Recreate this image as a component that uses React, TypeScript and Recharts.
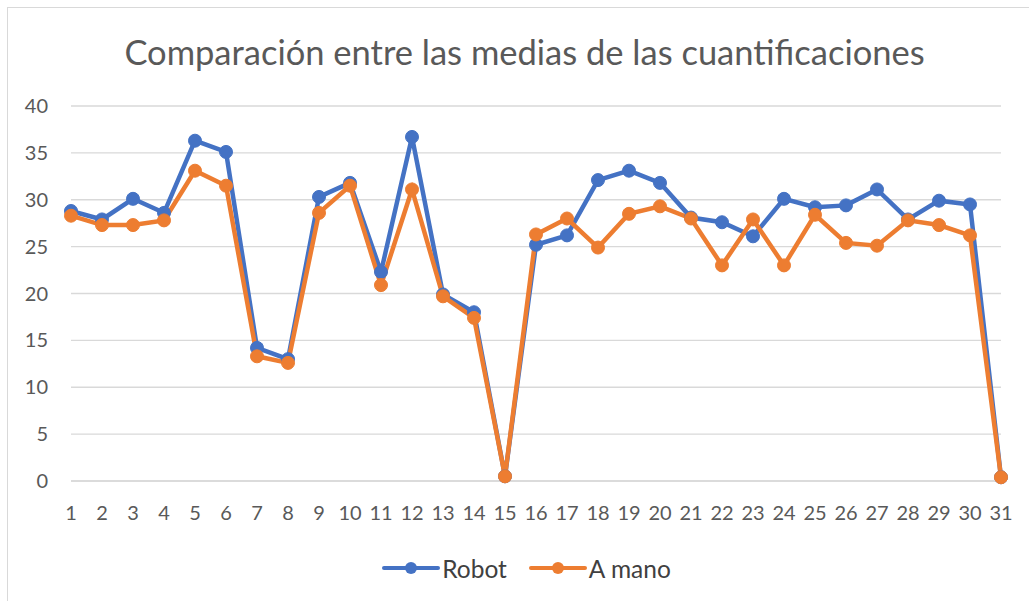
import React from 'react';
import { LineChart, Line, XAxis, YAxis, CartesianGrid, Legend } from 'recharts';

const categories = [
  '1', '2', '3', '4', '5', '6', '7', '8', '9', '10', '11', '12', '13', '14', '15', '16',
  '17', '18', '19', '20', '21', '22', '23', '24', '25', '26', '27', '28', '29', '30', '31',
];

const robot = [
  28.8, 27.9, 30.1, 28.6, 36.3, 35.1, 14.2, 13.0, 30.3, 31.8, 22.3, 36.7, 19.9, 18.0, 0.5, 25.2,
  26.2, 32.1, 33.1, 31.8, 28.1, 27.6, 26.1, 30.1, 29.2, 29.4, 31.1, 27.9, 29.9, 29.5, 0.4,
];

const aMano = [
  28.3, 27.3, 27.3, 27.8, 33.1, 31.5, 13.3, 12.6, 28.6, 31.5, 20.9, 31.1, 19.7, 17.4, 0.5, 26.3,
  28.0, 24.9, 28.5, 29.3, 28.0, 23.0, 27.9, 23.0, 28.4, 25.4, 25.1, 27.8, 27.3, 26.2, 0.4,
];

const yTicks = [0, 5, 10, 15, 20, 25, 30, 35, 40];
const seriesOrder = ['Robot', 'A mano'];

const BLUE = '#4472C4';
const ORANGE = '#ED7D31';
const FONT = 'Lato, "Open Sans", sans-serif';

const data = categories.map((c, i) => ({ cat: c, robot: robot[i], aMano: aMano[i] }));

function LegendContent({ payload }: any) {
  const items = [...(payload || [])].sort(
    (a: any, b: any) => seriesOrder.indexOf(a.value) - seriesOrder.indexOf(b.value)
  );
  return (
    <div style={{ display: 'flex', justifyContent: 'center', alignItems: 'center', height: 30, gap: 22 }}>
      {items.map((p: any) => (
        <div key={p.value} style={{ display: 'flex', alignItems: 'center' }}>
          <svg width={58} height={16}>
            <line x1={2} y1={8} x2={56} y2={8} stroke={p.color} strokeWidth={4} strokeLinecap="round" />
            <circle cx={29} cy={8} r={6} fill={p.color} />
          </svg>
          <span style={{ fontFamily: FONT, fontSize: 24.5, color: '#404040', marginLeft: 2 }}>{p.value}</span>
        </div>
      ))}
    </div>
  );
}

export default function App() {
  return (
    <div style={{ position: 'absolute', left: 0, top: 0, width: 1029, height: 601, background: '#fff', overflow: 'hidden' }}>
      <div
        style={{
          position: 'absolute', left: 7, top: 7, width: 1100, height: 700,
          borderLeft: '1.5px solid #d9d9d9', borderTop: '1.5px solid #d9d9d9',
        }}
      />
      <div
        style={{
          position: 'absolute', left: 0, top: 28, width: 1049, textAlign: 'center',
          fontFamily: FONT, fontSize: 34.5, color: '#595959', lineHeight: '48px',
        }}
      >
        Comparación entre las medias de las cuantificaciones
      </div>
      <div style={{ position: 'absolute', left: 0, top: 0 }}>
        <LineChart width={1029} height={601} data={data} margin={{ top: 106, right: 28, bottom: 60, left: 0 }}>
          <CartesianGrid vertical={false} stroke="#d9d9d9" strokeWidth={1.3} />
          <XAxis
            dataKey="cat"
            tickLine={false}
            axisLine={{ stroke: '#d9d9d9', strokeWidth: 1.3 }}
            tickSize={0}
            tickMargin={25}
            height={30}
            interval={0}
            tick={{ fill: '#595959', fontSize: 20, fontFamily: FONT }}
          />
          <YAxis
            width={71}
            domain={[0, 40]}
            ticks={yTicks}
            axisLine={false}
            tickLine={false}
            tickSize={0}
            tickMargin={23}
            tick={{ fill: '#595959', fontSize: 20, fontFamily: FONT }}
          />
          <Legend verticalAlign="bottom" wrapperStyle={{ bottom: 18, left: 26 }} content={<LegendContent />} />
          <Line
            dataKey="robot"
            name="Robot"
            stroke={BLUE}
            strokeWidth={4.5}
            dot={{ r: 6.5, fill: BLUE, stroke: BLUE, strokeWidth: 1 }}
            isAnimationActive={false}
          />
          <Line
            dataKey="aMano"
            name="A mano"
            stroke={ORANGE}
            strokeWidth={4.5}
            dot={{ r: 6.5, fill: ORANGE, stroke: ORANGE, strokeWidth: 1 }}
            isAnimationActive={false}
          />
        </LineChart>
      </div>
    </div>
  );
}
